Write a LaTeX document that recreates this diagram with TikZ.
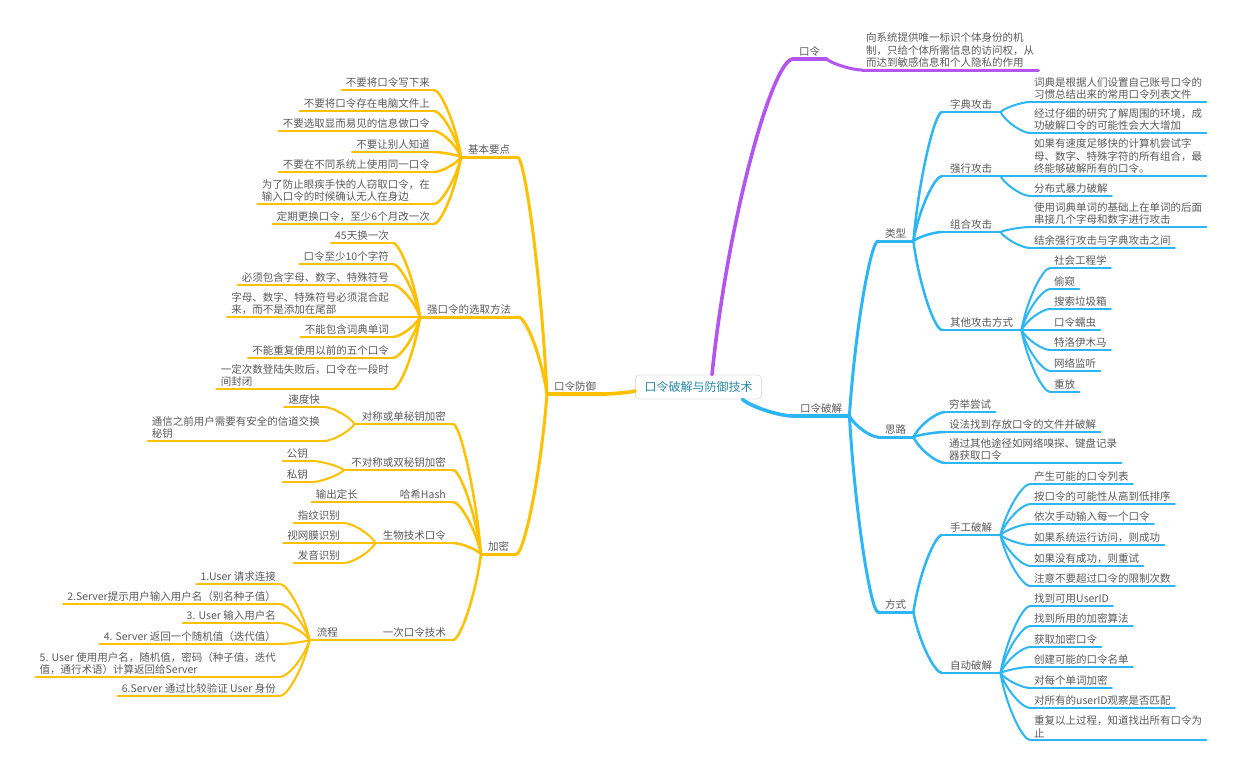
\documentclass[tikz,border=0pt]{standalone}
\usepackage{fontspec}
\newfontfamily\cjk{Noto Sans CJK SC}
\usetikzlibrary{calc}
\definecolor{yel}{HTML}{FFC000}
\definecolor{blu}{HTML}{2DB6F5}
\definecolor{pur}{HTML}{B455F2}
\definecolor{txt}{HTML}{5A5A5A}
\definecolor{ctext}{HTML}{2B8AA6}
\newcommand\tk{\cjk\fontsize{10.5}{12.5}\selectfont}
\newcommand\myconn[3]{\draw[#1] let \p1=(#2), \p2=(#3) in (\p1) .. controls ({\x1+0.2*(\x2-\x1)},{\y1+0.5*(\y2-\y1)}) and ({\x1+0.75*(\x2-\x1)},\y2) .. (\p2);}
\tikzset{
  lk/.style={line cap=round, line join=round},
  Y1/.style={lk, draw=yel, line width=3.6pt},
  Y2/.style={lk, draw=yel, line width=3pt},
  Y3/.style={lk, draw=yel, line width=2.5pt},
  Y4/.style={lk, draw=yel, line width=2pt},
  B1/.style={lk, draw=blu, line width=3.6pt},
  B2/.style={lk, draw=blu, line width=3pt},
  B3/.style={lk, draw=blu, line width=2.5pt},
  B4/.style={lk, draw=blu, line width=2pt},
  P1/.style={lk, draw=pur, line width=3.6pt},
  P2/.style={lk, draw=pur, line width=3pt},
  tnode/.style={font=\tk, text=txt, inner ysep=2pt, inner xsep=4pt, align=left},
  mid/.style={tnode, inner xsep=7pt},
  mid3/.style={tnode, inner xsep=8pt},
  U/.style={append after command={(\tikzlastnode.south west) edge[#1] (\tikzlastnode.south east)}},
  L/.style={anchor=south east},
  R/.style={anchor=south west},
  central/.style={draw=black!12, line width=0.8pt, rounded corners=4pt, fill=white,
    font=\cjk\fontsize{12}{14}\selectfont, text=ctext, inner xsep=9pt, minimum height=24pt}
}
\begin{document}
\begin{tikzpicture}[x=1pt,y=-1pt]
\fill[white] (0,0) rectangle (1240,774);
\useasboundingbox (0,0) rectangle (1240,774);

\node[central] (c) at (698.5,387) {口令破解与防御技术};
\coordinate (cY) at ([yshift=-4pt]c.west);
\coordinate (cB) at ([xshift=44pt]c.south);
\coordinate (cP) at ([xshift=13.5pt]c.north);

% ---------- purple ----------
\node[tnode, inner xsep=6pt, R, U=P1] (kl) at (793,59) {口令};
\node[tnode, R, U=P2] (kd) at (862,70) {向系统提供唯一标识个体身份的机\\制，只给个体所需信息的访问权，从\\而达到敏感信息和个人隐私的作用};
\myconn{P1}{cP}{kl.south west}
\myconn{P2}{kl.south east}{kd.south west}

% ---------- yellow ----------
\node[mid, R, U=Y1] (kf) at (547,394) {口令防御};
\myconn{Y1}{cY}{kf.south east}
\node[mid, R, U=Y2] (jb) at (461,157) {基本要点};
\node[mid, R, U=Y2] (qk) at (420,317) {强口令的选取方法};
\node[mid, R, U=Y2] (jm) at (481,554) {加密};
\foreach \q in {jb,qk,jm} {\myconn{Y2}{kf.south west}{\q.south east}}

\node[tnode, L, U=Y3] (jb1) at (434,90) {不要将口令写下来};
\node[tnode, L, U=Y3] (jb2) at (434,111) {不要将口令存在电脑文件上};
\node[tnode, L, U=Y3] (jb3) at (434,131) {不要选取显而易见的信息做口令};
\node[tnode, L, U=Y3] (jb4) at (434,152) {不要让别人知道};
\node[tnode, L, U=Y3] (jb5) at (434,172) {不要在不同系统上使用同一口令};
\node[tnode, L, U=Y3] (jb6) at (434,204) {为了防止眼疾手快的人窃取口令，在\\输入口令的时候确认无人在身边};
\node[tnode, L, U=Y3] (jb7) at (434,224) {定期更换口令，至少6个月改一次};
\foreach \i in {1,...,7} {\myconn{Y3}{jb.south west}{jb\i.south east}}

\node[tnode, L, U=Y3] (qk1) at (393,243) {45天换一次};
\node[tnode, L, U=Y3] (qk2) at (393,264) {口令至少10个字符};
\node[tnode, L, U=Y3] (qk3) at (393,285) {必须包含字母、数字、特殊符号};
\node[tnode, L, U=Y3] (qk4) at (393,317) {字母、数字、特殊符号必须混合起\\来，而不是添加在尾部};
\node[tnode, L, U=Y3] (qk5) at (393,337) {不能包含词典单词};
\node[tnode, L, U=Y3] (qk6) at (393,358) {不能重复使用以前的五个口令};
\node[tnode, L, U=Y3] (qk7) at (393,389) {一定次数登陆失败后，口令在一段时\\间封闭};
\foreach \i in {1,...,7} {\myconn{Y3}{qk.south west}{qk\i.south east}}

\node[mid, L, U=Y3] (dc) at (453,424) {对称或单秘钥加密};
\node[mid, L, U=Y3] (bd) at (453,470) {不对称或双秘钥加密};
\node[mid, L, U=Y3] (hx) at (453,502) {哈希Hash};
\node[mid, L, U=Y3] (sw) at (453,543) {生物技术口令};
\node[mid, L, U=Y3] (yc) at (453,640) {一次口令技术};
\foreach \q in {dc,bd,hx,sw,yc} {\myconn{Y3}{jm.south west}{\q.south east}}

\node[tnode, L, U=Y4] (dc1) at (324,407) {速度快};
\node[tnode, L, U=Y4] (dc2) at (324,441) {通信之前用户需要有安全的信道交换\\秘钥};
\foreach \i in {1,2} {\myconn{Y4}{dc.south west}{dc\i.south east}}
\node[tnode, L, U=Y4] (bd1) at (312,461) {公钥};
\node[tnode, L, U=Y4] (bd2) at (312,482) {私钥};
\foreach \i in {1,2} {\myconn{Y4}{bd.south west}{bd\i.south east}}
\node[tnode, L, U=Y4] (hx1) at (362,502) {输出定长};
\myconn{Y4}{hx.south west}{hx1.south east}
\node[tnode, L, U=Y4] (sw1) at (344,523) {指纹识别};
\node[tnode, L, U=Y4] (sw2) at (344,543) {视网膜识别};
\node[tnode, L, U=Y4] (sw3) at (344,563) {发音识别};
\foreach \i in {1,2,3} {\myconn{Y4}{sw.south west}{sw\i.south east}}
\node[mid, L, U=Y4] (lc) at (345,640) {流程};
\myconn{Y4}{yc.south west}{lc.south east}
\node[tnode, L, U=Y4] (lc1) at (280,584) {1.User 请求连接};
\node[tnode, L, U=Y4] (lc2) at (280,604) {2.Server提示用户输入用户名（别名种子值）};
\node[tnode, L, U=Y4] (lc3) at (280,623) {3. User 输入用户名};
\node[tnode, L, U=Y4] (lc4) at (280,644) {4. Server 返回一个随机值（迭代值）};
\node[tnode, L, U=Y4] (lc5) at (280,677) {5. User 使用用户名，随机值，密码（种子值，迭代\\值，通行术语）计算返回给Server};
\node[tnode, L, U=Y4] (lc6) at (280,696) {6.Server 通过比较验证 User 身份};
\foreach \i in {1,...,6} {\myconn{Y4}{lc.south west}{lc\i.south east}}

% ---------- blue ----------
\node[mid, R, U=B1] (kp) at (793,416) {口令破解};
\myconn{B1}{cB}{kp.south west}
\node[mid, R, U=B2] (lx) at (878,241) {类型};
\node[mid, R, U=B2] (sl) at (878,437) {思路};
\node[mid, R, U=B2] (fs) at (878,612) {方式};
\foreach \q in {lx,sl,fs} {\myconn{B2}{kp.south east}{\q.south west}}

\node[mid3, R, U=B3] (zd) at (942,112) {字典攻击};
\node[mid3, R, U=B3] (qx) at (942,176) {强行攻击};
\node[mid3, R, U=B3] (zh) at (942,232) {组合攻击};
\node[mid3, R, U=B3] (qt) at (942,330) {其他攻击方式};
\foreach \q in {zd,qx,zh,qt} {\myconn{B3}{lx.south east}{\q.south west}}

\node[tnode, R, U=B4] (zd1) at (1030,102) {词典是根据人们设置自己账号口令的\\习惯总结出来的常用口令列表文件};
\node[tnode, R, U=B4] (zd2) at (1030,133) {经过仔细的研究了解周围的环境，成\\功破解口令的可能性会大大增加};
\foreach \i in {1,2} {\myconn{B4}{zd.south east}{zd\i.south west}}
\node[tnode, R, U=B4] (qx1) at (1030,176) {如果有速度足够快的计算机尝试字\\母、数字、特殊字符的所有组合，最\\终能够破解所有的口令。};
\node[tnode, R, U=B4] (qx2) at (1030,196) {分布式暴力破解};
\foreach \i in {1,2} {\myconn{B4}{qx.south east}{qx\i.south west}}
\node[tnode, R, U=B4] (zh1) at (1030,227) {使用词典单词的基础上在单词的后面\\串接几个字母和数字进行攻击};
\node[tnode, R, U=B4] (zh2) at (1030,248) {结余强行攻击与字典攻击之间};
\foreach \i in {1,2} {\myconn{B4}{zh.south east}{zh\i.south west}}
\node[tnode, R, U=B4] (qt1) at (1050,268) {社会工程学};
\node[tnode, R, U=B4] (qt2) at (1050,289) {偷窥};
\node[tnode, R, U=B4] (qt3) at (1050,309) {搜索垃圾箱};
\node[tnode, R, U=B4] (qt4) at (1050,330) {口令蠕虫};
\node[tnode, R, U=B4] (qt5) at (1050,350) {特洛伊木马};
\node[tnode, R, U=B4] (qt6) at (1050,371) {网络监听};
\node[tnode, R, U=B4] (qt7) at (1050,392) {重放};
\foreach \i in {1,...,7} {\myconn{B4}{qt.south east}{qt\i.south west}}

\node[tnode, R, U=B3] (sl1) at (945,412) {穷举尝试};
\node[tnode, R, U=B3] (sl2) at (945,432) {设法找到存放口令的文件并破解};
\node[tnode, R, U=B3] (sl3) at (945,463) {通过其他途径如网络嗅探、键盘记录\\器获取口令};
\foreach \i in {1,2,3} {\myconn{B3}{sl.south east}{sl\i.south west}}

\node[mid3, R, U=B3] (sg) at (942,535) {手工破解};
\node[mid3, R, U=B3] (zp) at (942,673) {自动破解};
\foreach \q in {sg,zp} {\myconn{B3}{fs.south east}{\q.south west}}

\node[tnode, R, U=B4] (sg1) at (1030,484) {产生可能的口令列表};
\node[tnode, R, U=B4] (sg2) at (1030,504) {按口令的可能性从高到低排序};
\node[tnode, R, U=B4] (sg3) at (1030,524) {依次手动输入每一个口令};
\node[tnode, R, U=B4] (sg4) at (1030,545) {如果系统运行访问，则成功};
\node[tnode, R, U=B4] (sg5) at (1030,566) {如果没有成功，则重试};
\node[tnode, R, U=B4] (sg6) at (1030,586) {注意不要超过口令的限制次数};
\foreach \i in {1,...,6} {\myconn{B4}{sg.south east}{sg\i.south west}}

\node[tnode, R, U=B4] (zp1) at (1030,606) {找到可用UserID};
\node[tnode, R, U=B4] (zp2) at (1030,626) {找到所用的加密算法};
\node[tnode, R, U=B4] (zp3) at (1030,647) {获取加密口令};
\node[tnode, R, U=B4] (zp4) at (1030,667) {创建可能的口令名单};
\node[tnode, R, U=B4] (zp5) at (1030,688) {对每个单词加密};
\node[tnode, R, U=B4] (zp6) at (1030,708) {对所有的userID观察是否匹配};
\node[tnode, R, U=B4] (zp7) at (1030,740) {重复以上过程，知道找出所有口令为\\止};
\foreach \i in {1,...,7} {\myconn{B4}{zp.south east}{zp\i.south west}}
\end{tikzpicture}
\end{document}
